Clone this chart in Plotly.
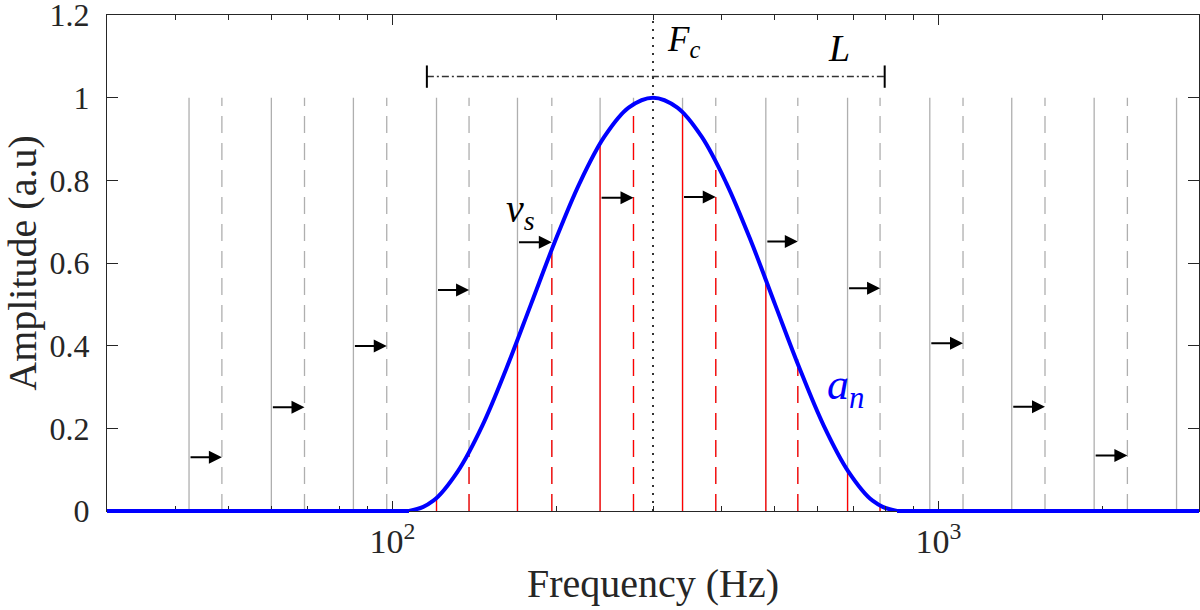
import numpy as np
import plotly.graph_objects as go

# window a_n (Hz / amplitude)
curve_f = [30, 107.2, 118.8, 131.7, 146.0, 161.8, 179.3, 198.8, 220.3, 244.2, 270.7, 300,
           332.5, 368.6, 408.5, 452.8, 501.9, 556.3, 616.6, 683.4, 757.5, 839.6, 3000]
curve_a = [0, 0, 0.025, 0.096, 0.206, 0.346, 0.5, 0.655, 0.794, 0.905, 0.976, 1.0,
           0.976, 0.905, 0.794, 0.655, 0.5, 0.346, 0.206, 0.096, 0.025, 0, 0]

# band positions before (solid) and after (dashed) the shift
solid_f = [42.4, 60, 84.8, 120.4, 169.4, 240, 339.8, 482.8, 681.5, 964, 1362, 1928, 2729]
dashed_f = [48.7, 69.0, 97.6, 138.1, 195.8, 276.3, 390.9, 552.5, 781.6, 1109, 1567, 2218]

# red parts of the lines that fall under the window
red_solid_f = [120.4, 169.4, 240, 339.8, 482.8, 681.5]
red_solid_a = [0.031, 0.41, 0.885, 0.963, 0.562, 0.1]
red_dashed_f = [138.1, 195.8, 276.3, 390.9, 552.5, 781.6]
red_dashed_a = [0.15, 0.625, 0.98, 0.843, 0.355, 0.012]

# heights of the shift arrows v_s
arrow_h = [0.13, 0.251, 0.399, 0.535, 0.65, 0.758, 0.76, 0.652, 0.539, 0.406, 0.252, 0.134]

fc = 300
L_lo, L_hi, L_y = 115.6, 797, 1.051

y_ticks = [0, 0.2, 0.4, 0.6, 0.8, 1, 1.2]
y_labels = ['0', '0.2', '0.4', '0.6', '0.8', '1', '1.2']
minor_vals = [30, 40, 50, 60, 70, 80, 90, 200, 300, 400, 500, 600, 700, 800, 900, 2000, 3000]

axis_col = '#262626'
serif = 'Liberation Serif, DejaVu Serif, serif'


def segs(xs, tops, bottom=0):
    x, y = [], []
    for f, t in zip(xs, tops):
        x += [f, f, None]
        y += [bottom, t, None]
    return x, y


fig = go.Figure()

gx, gy = segs(solid_f, [1] * len(solid_f))
fig.add_trace(go.Scatter(x=gx, y=gy, mode='lines',
                         line=dict(color='rgb(175,175,175)', width=1.3)))
gx, gy = segs(dashed_f, [1] * len(dashed_f))
fig.add_trace(go.Scatter(x=gx, y=gy, mode='lines',
                         line=dict(color='rgb(175,175,175)', width=1.3, dash='17px,10px')))

rx, ry = segs(red_solid_f, red_solid_a)
fig.add_trace(go.Scatter(x=rx, y=ry, mode='lines', line=dict(color='red', width=1.3)))
rx, ry = segs(red_dashed_f, red_dashed_a)
fig.add_trace(go.Scatter(x=rx, y=ry, mode='lines',
                         line=dict(color='red', width=1.3, dash='17px,10px')))

# the window itself
fig.add_trace(go.Scatter(x=curve_f, y=curve_a, mode='lines', line_shape='spline',
                         line=dict(color='rgb(0,0,255)', width=4)))

# Fc marker
fig.add_trace(go.Scatter(x=[fc, fc], y=[0, 1.2], mode='lines',
                         line=dict(color='#333333', width=2, dash='2px,6px')))

# L span
fig.add_trace(go.Scatter(x=[L_lo, L_hi], y=[L_y, L_y], mode='lines',
                         line=dict(color='#333333', width=1.5, dash='7px,3px,2px,3px')))
cx, cy = segs([L_lo, L_hi], [L_y + 0.027] * 2, bottom=L_y - 0.027)
fig.add_trace(go.Scatter(x=cx, y=cy, mode='lines', line=dict(color='black', width=2)))

# thick zero parts of the window sitting on the axis (not clipped vertically)
fig.add_shape(type='line', xref='x', yref='paper', x0=curve_f[0], x1=curve_f[1], y0=0, y1=0,
              line=dict(color='rgb(0,0,255)', width=4))
fig.add_shape(type='line', xref='x', yref='paper', x0=curve_f[-2], x1=curve_f[-1], y0=0, y1=0,
              line=dict(color='rgb(0,0,255)', width=4))

for x0, x1, h in zip(solid_f, dashed_f, arrow_h):
    fig.add_annotation(x=np.log10(x1), y=h, ax=np.log10(x0), ay=h, xref='x', yref='y',
                       axref='x', ayref='y', text='', showarrow=True, arrowhead=2,
                       arrowsize=1.3, arrowwidth=2, arrowcolor='black', standoff=0)

fig.add_annotation(x=2.50, y=1.135, text='<i>F</i><sub><i>c</i></sub>', showarrow=False,
                   xanchor='left', font=dict(family=serif, size=35, color='black'))
fig.add_annotation(x=2.817, y=1.12, text='<i>L</i>', showarrow=False,
                   font=dict(family=serif, size=38, color='black'))
fig.add_annotation(x=2.235, y=0.725, text='<i>v</i><sub><i>s</i></sub>', showarrow=False,
                   font=dict(family=serif, size=40, color='black'))
fig.add_annotation(x=2.83, y=0.30, text='<i>a</i><sub><i>n</i></sub>', showarrow=False,
                   font=dict(family=serif, size=44, color='rgb(0,0,255)'))

fig.update_layout(width=1200, height=610, margin=dict(l=107, r=1, t=15, b=99),
                  plot_bgcolor='white', paper_bgcolor='white', showlegend=False,
                  font=dict(family=serif, size=32, color=axis_col))
fig.update_xaxes(type='log', range=[np.log10(30), np.log10(3000)], automargin=False,
                 tickvals=[100, 1000], ticktext=['10<sup>2</sup>', '10<sup>3</sup>'],
                 tickfont=dict(family=serif, size=34, color=axis_col),
                 ticks='inside', ticklen=10, tickcolor=axis_col, tickwidth=1,
                 showline=True, linecolor=axis_col, linewidth=1, mirror='ticks',
                 showgrid=False, zeroline=False, ticklabeloverflow='allow',
                 minor=dict(tickvals=minor_vals, ticks='inside', ticklen=5,
                            tickcolor=axis_col, showgrid=False),
                 title=dict(text='Frequency (Hz)', standoff=10,
                            font=dict(family=serif, size=40, color=axis_col)))
fig.update_yaxes(range=[0, 1.2001], automargin=False,
                 tickvals=y_ticks, ticktext=y_labels,
                 tickfont=dict(family=serif, size=32, color=axis_col),
                 ticks='inside', ticklen=11, tickcolor=axis_col, tickwidth=1,
                 showline=True, linecolor=axis_col, linewidth=1, mirror='ticks',
                 showgrid=False, zeroline=False, ticklabelstandoff=10,
                 ticklabeloverflow='allow',
                 title=dict(text='Amplitude (a.u)', standoff=6,
                            font=dict(family=serif, size=40, color=axis_col)))

fig.write_html("out.html", config={'displayModeBar': False},
               post_script="document.body.style.margin = '0';")
